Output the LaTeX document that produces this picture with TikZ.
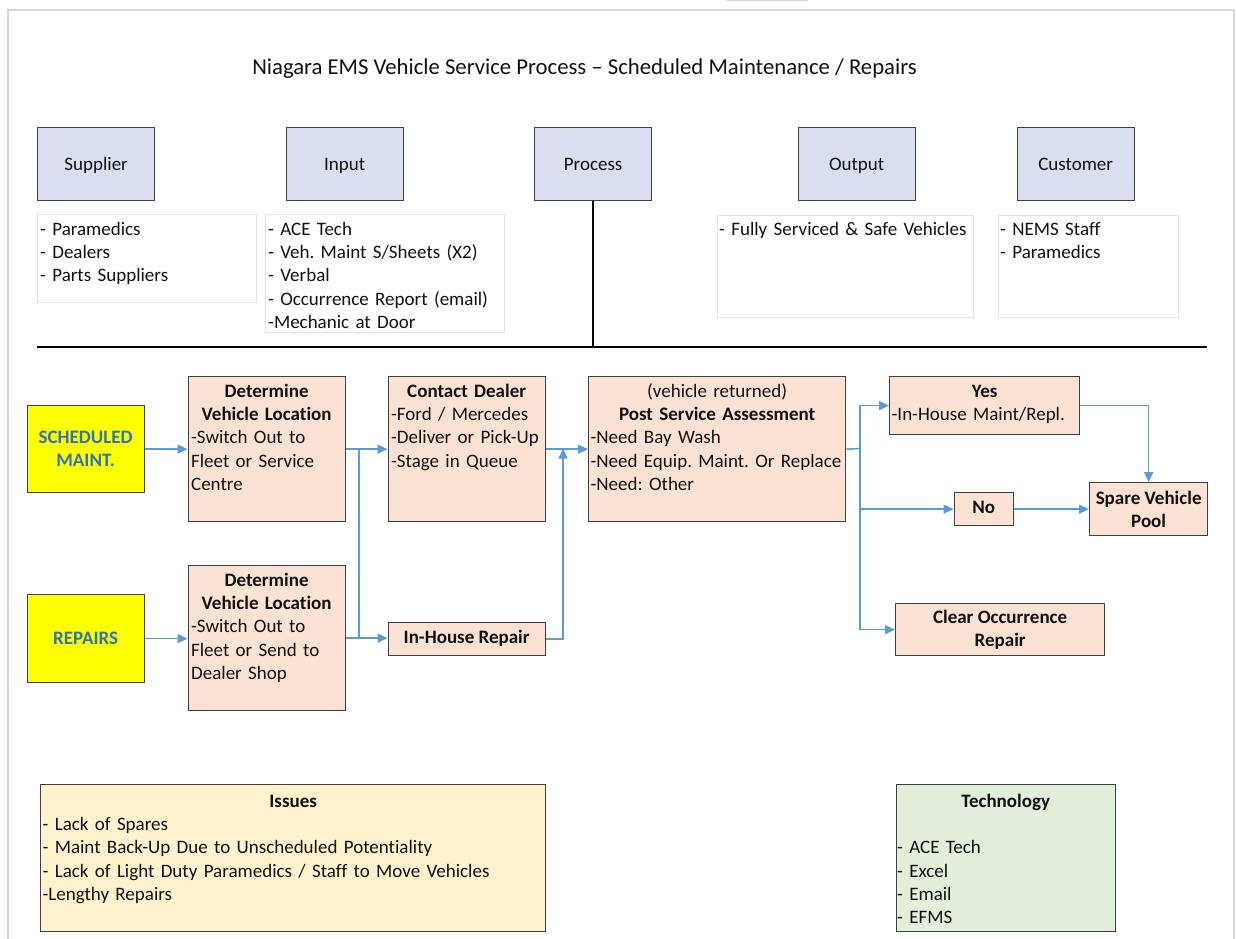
\documentclass[tikz,border=0pt]{standalone}
\usepackage{fontspec}
\setmainfont{Carlito}[Ligatures={TeX,NoCommon}]
\usetikzlibrary{arrows.meta}
\frenchspacing

\definecolor{framegrey}{HTML}{D6D6D6}
\definecolor{boxline}{HTML}{3F3F3F}
\definecolor{lstline}{HTML}{E2E2E2}
\definecolor{hdrfill}{HTML}{D9DFF0}
\definecolor{peach}{HTML}{FBE2D3}
\definecolor{sigyellow}{HTML}{FFFF00}
\definecolor{schedblue}{HTML}{2F75B5}
\definecolor{flowblue}{HTML}{5B9BD5}
\definecolor{issuefill}{HTML}{FFF2CC}
\definecolor{techfill}{HTML}{E2EFDA}
\definecolor{ink}{HTML}{111111}

\newcommand\bodyfont{\fontsize{19}{23.2}\selectfont\frenchspacing}
\newcommand\ctr[1]{\hspace*{\fill}\mbox{#1}\hspace*{\fill}\mbox{}}

\begin{document}
\begin{tikzpicture}[x=1pt,y=-1pt,
  hdr/.style={draw=boxline, line width=1.3pt, fill=hdrfill, anchor=north west,
    inner sep=0pt, minimum width=117pt, minimum height=73pt, font=\bodyfont, text=ink,
    text height=16pt, text depth=3.4pt},
  lst/.style={draw=lstline, line width=0.8pt, fill=white, anchor=north west, inner sep=0pt},
  fbox/.style={draw=boxline, line width=1.3pt, fill=peach, anchor=north west,
    inner sep=0pt, font=\bodyfont\bfseries, align=center, text=ink},
  ybox/.style={fbox, fill=sigyellow, text=schedblue},
  txt/.style={anchor=north, inner sep=0pt, font=\bodyfont, align=left, text=ink,
    execute at begin node=\strut},
  ltxt/.style={anchor=north west, inner sep=0pt, font=\bodyfont, align=left, text=ink,
    execute at begin node=\strut},
  flow/.style={draw=flowblue, line width=1.5pt},
  arr/.style={flow, -{Triangle[length=10pt,width=9pt]}},
  rule/.style={draw=black, line width=1.4pt}
]
\useasboundingbox (0,0) rectangle (1236,939);
\fill[white] (0,0) rectangle (1236,939);

% page frame
\draw[framegrey, line width=2.5pt] (8,939) -- (8,10) -- (1234,10) -- (1234,939);
\draw[framegrey, line width=1pt] (726,0.5) -- (808,0.5);

% title
\node[font=\fontsize{22.7}{27}\selectfont, text=ink, inner sep=0pt] (title) at (584.5,69)
  {Niagara EMS Vehicle Service Process – Scheduled Maintenance / Repairs};

% SIPOC headers
\node[hdr] (sup)  at (37,127)    {Supplier};
\node[hdr] (inp)  at (285.5,127) {Input};
\node[hdr] (proc) at (534,127)   {Process};
\node[hdr] (outp) at (797.5,127) {Output};
\node[hdr] (cust) at (1016.5,127){Customer};

% SIPOC lists
\node[lst, minimum width=219pt, minimum height=88pt]  (supl)  at (37,214)   {};
\node[lst, minimum width=239pt, minimum height=118pt] (inpl)  at (265,214)  {};
\node[lst, minimum width=256pt, minimum height=102pt] (outl)  at (717,215)  {};
\node[lst, minimum width=180pt, minimum height=102pt] (custl) at (997.5,215){};

\node[ltxt, text width=212pt] (suplt) at ([xshift=3pt,yshift=-5pt]supl.north west)
  {\mbox{- Paramedics}\\ \mbox{- Dealers}\\ \mbox{- Parts Suppliers}};
\node[ltxt, text width=232pt] (inplt) at ([xshift=3pt,yshift=-5pt]inpl.north west)
  {\mbox{- ACE Tech}\\ \mbox{- Veh. Maint S/Sheets (X2)}\\ \mbox{- Verbal}\\ \mbox{- Occurrence Report (email)}\\ \mbox{-Mechanic at Door}};
\node[ltxt, text width=250pt] (outlt) at ([xshift=2pt,yshift=-4pt]outl.north west)
  {\mbox{- Fully Serviced \& Safe Vehicles}};
\node[ltxt, text width=174pt] (custlt) at ([xshift=2.5pt,yshift=-4pt]custl.north west)
  {\mbox{- NEMS Staff}\\ \mbox{- Paramedics}};

% separator
\coordinate (hl) at (37,347);
\coordinate (hr) at (1207,347);
\draw[rule] (hl) -- (hr);
\draw[rule] (proc.south) -- (proc.south |- hl);

% process flow boxes
\node[ybox, minimum width=117pt, minimum height=87pt] (sched) at (26.5,405) {SCHEDULED\\MAINT.};
\node[ybox, minimum width=117pt, minimum height=88pt] (rep)   at (26.5,594) {REPAIRS};

\node[fbox, minimum width=157pt, minimum height=145pt] (det1) at (187.5,376) {};
\node[fbox, minimum width=157pt, minimum height=145pt] (det2) at (187.5,565) {};
\node[fbox, minimum width=157pt, minimum height=145pt] (cd)   at (387.5,376) {};
\node[fbox, minimum width=157pt, minimum height=33pt, execute at begin node=\strut]
  (ihr)  at (387.5,622) {In-House Repair};
\node[fbox, minimum width=257pt, minimum height=145pt] (psa)  at (588,376)   {};
\node[fbox, minimum width=190pt, minimum height=58pt]  (yes)  at (889,376)   {};
\node[fbox, minimum width=59pt,  minimum height=33pt, execute at begin node=\strut]
  (no)   at (953.5,492) {No};
\node[fbox, minimum width=118pt, minimum height=53pt]  (spare) at (1089,482) {Spare Vehicle\\Pool};
\node[fbox, minimum width=209pt, minimum height=52pt]  (clear) at (895,603)  {Clear Occurrence\\Repair};

\node[txt, text width=151pt] (det1t) at ([yshift=-5pt]det1.north)
  {\ctr{\textbf{Determine}}\\ \ctr{\textbf{Vehicle Location}}\\ \mbox{-Switch Out to}\\ \mbox{Fleet or Service}\\ Centre};
\node[txt, text width=151pt] (det2t) at ([yshift=-5pt]det2.north)
  {\ctr{\textbf{Determine}}\\ \ctr{\textbf{Vehicle Location}}\\ \mbox{-Switch Out to}\\ \mbox{Fleet or Send to}\\ \mbox{Dealer Shop}};
\node[txt, text width=151pt] (cdt) at ([yshift=-5pt]cd.north)
  {\ctr{\textbf{Contact Dealer}}\\ \mbox{-Ford / Mercedes}\\ \mbox{-Deliver or Pick-Up}\\ \mbox{-Stage in Queue}};
\node[txt, text width=253pt] (psat) at ([yshift=-5pt]psa.north)
  {\ctr{(vehicle returned)}\\ \ctr{\textbf{Post Service Assessment}}\\ \mbox{-Need Bay Wash}\\ \mbox{-Need Equip. Maint. Or Replace}\\ \mbox{-Need: Other}};
\node[txt, text width=186pt] (yest) at ([yshift=-5pt]yes.north)
  {\ctr{\textbf{Yes}}\\ \mbox{-In-House Maint/Repl.}};

% issues and technology
\node[fbox, fill=issuefill, minimum width=505pt, minimum height=147pt] (issues) at (40,784) {};
\node[fbox, fill=techfill,  minimum width=219pt, minimum height=147pt] (tech)   at (895.5,784) {};
\node[txt, text width=501pt] (issuest) at ([yshift=-7pt]issues.north)
  {\ctr{\textbf{Issues}}\\ \mbox{- Lack of Spares}\\ \mbox{- Maint Back-Up Due to Unscheduled Potentiality}\\ \mbox{- Lack of Light Duty Paramedics / Staff to Move Vehicles}\\ \mbox{-Lengthy Repairs}};
\node[txt, text width=217pt] (techt) at ([yshift=-7pt]tech.north)
  {\ctr{\textbf{Technology}}\\ \mbox{}\\ \mbox{- ACE Tech}\\ \mbox{- Excel}\\ \mbox{- Email}\\ \mbox{- EFMS}};

% connectors
\coordinate (j1) at (359,448.5);
\coordinate (j2) at (563,448.5);
\coordinate (j3) at (860,448.5);

\draw[arr] (sched.east) -- (sched.east -| det1.west);
\draw[arr] (rep.east) -- (rep.east -| det2.west);
\draw[arr] (det1.east) -- (det1.east -| cd.west);
\draw[flow] (j1) -- (j1 |- det2.east);
\draw[arr] (det2.east) -- (det2.east -| ihr.west);
\draw[arr] (cd.east) -- (cd.east -| psa.west);
\draw[arr] (ihr.east) -| (j2);
\draw[flow] (psa.east) -- (j3);
\draw[arr] (j3) |- (yes.west);
\draw[arr] (j3) |- (no.west);
\draw[arr] (j3) |- (clear.west);
\draw[arr] (yes.east) -| (spare.north);
\draw[arr] (no.east) -- (spare.west);
\end{tikzpicture}
\end{document}
